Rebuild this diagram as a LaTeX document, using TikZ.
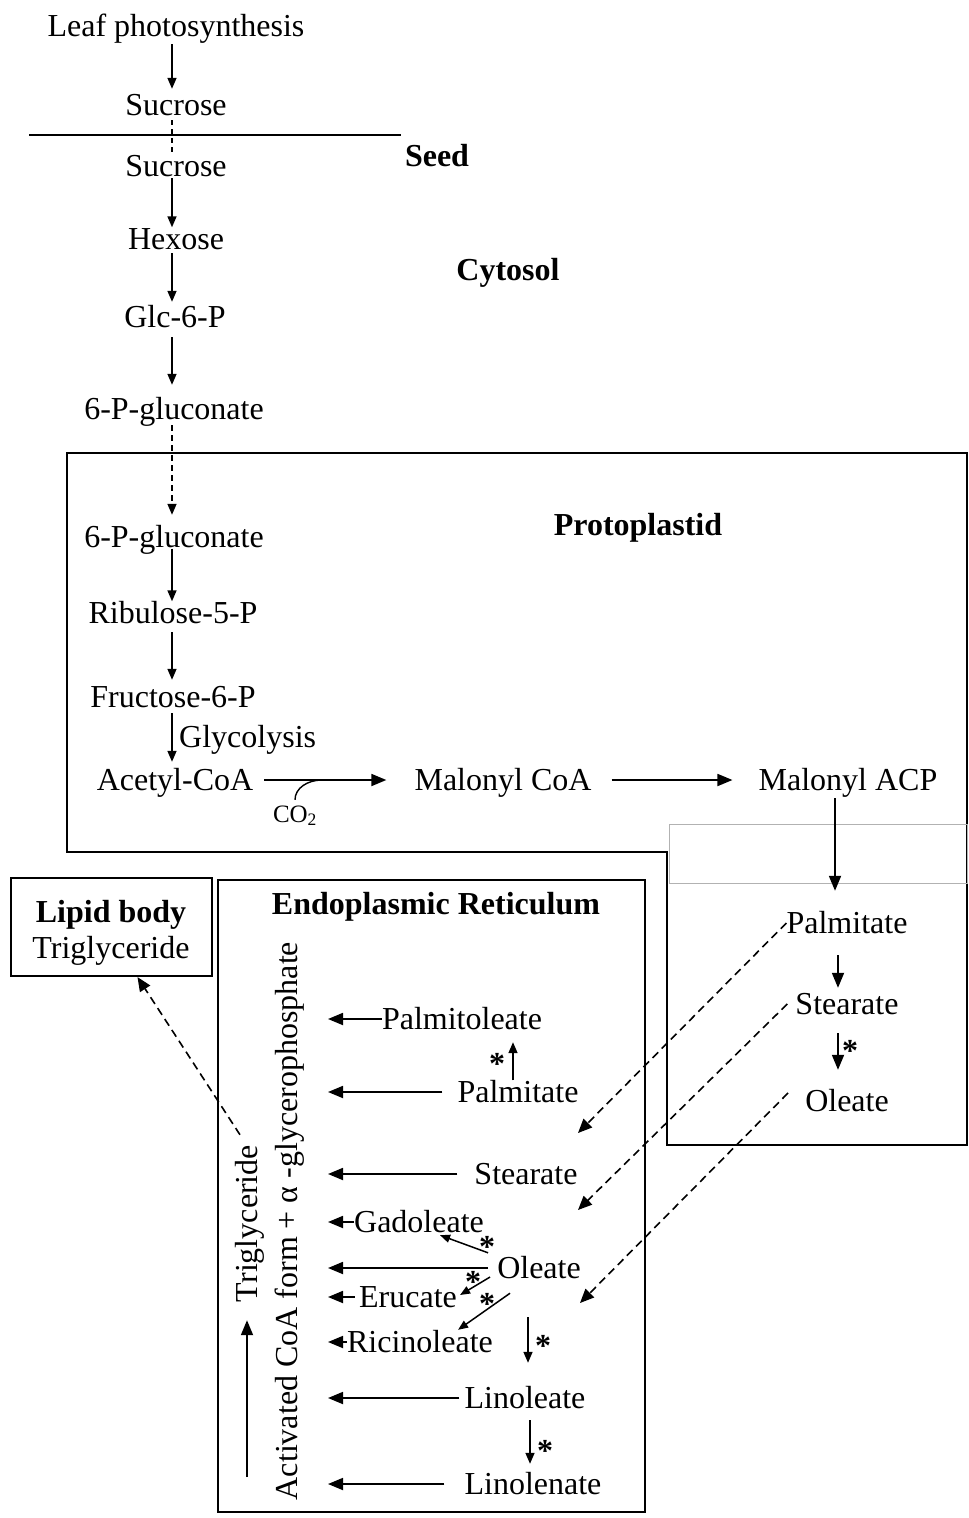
\documentclass[tikz,border=0pt]{standalone}
\usepackage{fontspec}
\setmainfont{Liberation Serif}
\usetikzlibrary{arrows.meta}
\newcommand\bigfnt{\fontsize{32}{37}\selectfont}
\begin{document}
\begin{tikzpicture}[x=1pt,y=-1pt,
  lbl/.style={inner sep=0pt, font=\bigfnt, text height=22pt, text depth=1pt, anchor=center},
  blbl/.style={lbl, font=\bigfnt\bfseries},
  arr/.style={line width=1.6pt, -{Triangle[length=11pt,width=9pt]}},
  harr/.style={line width=1.8pt, -{Triangle[length=15pt,width=12pt]}},
  sarr/.style={line width=1.5pt, -{Triangle[length=10pt,width=8pt]}},
  darr/.style={line width=1.6pt, dash pattern=on 8pt off 5pt, -{Triangle[length=14pt,width=12pt]}},
  boxline/.style={line width=2.2pt},
  star/.style={inner sep=0pt, font=\bigfnt\bfseries}
]
\fill[white] (0,0) rectangle (969,1518);
\useasboundingbox (0,0) rectangle (969,1518);

% boxes and separators
\draw[boxline] (67,453) -- (967,453) -- (967,1145) -- (667,1145) -- (667,852) -- (67,852) -- cycle;
\draw[gray!60, line width=1pt] (669,824) rectangle (967,883);
\draw[boxline] (218,880) rectangle (645,1512);
\draw[line width=2pt] (29,135) -- (401,135);
\node[draw, boxline, minimum width=201pt, minimum height=98pt, inner sep=0pt] (lipid) at (111.5,927) {};

% main column
\node[lbl] (leaf) at (176,26) {Leaf photosynthesis};
\node[lbl] (suc1) at (176,105) {Sucrose};
\node[lbl] (suc2) at (176,166) {Sucrose};
\node[lbl] (hex) at (176,239) {Hexose};
\node[lbl] (glc) at (175,317) {Glc-6-P};
\node[lbl] (pg1) at (174,408.5) {6-P-gluconate};
\node[lbl] (pg2) at (174,537) {6-P-gluconate};
\node[lbl] (rib) at (173,613) {Ribulose-5-P};
\node[lbl] (fru) at (173,697) {Fructose-6-P};
\node[lbl, anchor=west] (gly) at (179,737) {Glycolysis};
\node[lbl] (acetyl) at (175,780) {Acetyl-CoA};
\node[lbl] (malcoa) at (503,780) {Malonyl CoA};
\node[lbl] (malacp) at (848,780) {Malonyl ACP};
\node[font=\fontsize{25}{28}\selectfont, inner sep=0pt, text height=16pt, text depth=0pt] (co2) at (295,814) {CO\textsubscript{2}};

% compartment labels
\node[blbl] (seed) at (437,156) {Seed};
\node[blbl] (cyto) at (508,270) {Cytosol};
\node[blbl] (proto) at (638,525) {Protoplastid};
\node[blbl] (er) at (436,904) {Endoplasmic Reticulum};
\node[blbl] (lipT1) at (111,911.5) {Lipid body};
\node[lbl] (lipT2) at (111,947.5) {Triglyceride};

% right box
\node[lbl] (palmR) at (847,923) {Palmitate};
\node[lbl] (stearR) at (847,1004) {Stearate};
\node[lbl] (oleR) at (847,1101) {Oleate};

% ER contents
\node[lbl] (palmo) at (462,1019) {Palmitoleate};
\node[lbl] (palmE) at (518,1092) {Palmitate};
\node[lbl] (stearE) at (526,1174) {Stearate};
\node[lbl] (gado) at (419,1222) {Gadoleate};
\node[lbl] (oleE) at (539,1268) {Oleate};
\node[lbl] (eruc) at (408,1297) {Erucate};
\node[lbl] (ricin) at (420,1342) {Ricinoleate};
\node[lbl] (linol) at (525,1398) {Linoleate};
\node[lbl] (linon) at (533,1484) {Linolenate};
\node[lbl, rotate=90] (trig) at (246.5,1223.5) {Triglyceride};
\node[lbl, rotate=90] (act) at (286.5,1221) {Activated CoA form + α -glycerophosphate};

% column arrows
\coordinate (cx) at (172,0);
\draw[arr, shorten <=6.5pt, shorten >=4.5pt] (leaf.south -| cx) -- (suc1.north -| cx);
\draw[line width=1.5pt, dash pattern=on 5pt off 4pt, shorten <=3.5pt, shorten >=1.5pt] (suc1.south -| cx) -- (suc2.north -| cx);
\draw[arr, shorten <=0.5pt] (suc2.south -| cx) -- (hex.north -| cx);
\draw[arr, shorten <=2.5pt, shorten >=3.5pt] (hex.south -| cx) -- (glc.north -| cx);
\draw[arr, shorten <=8.5pt, shorten >=12pt] (glc.south -| cx) -- (pg1.north -| cx);
\draw[arr, dash pattern=on 6pt off 4pt, shorten <=5pt, shorten >=10.5pt] (pg1.south -| cx) -- (pg2.north -| cx);
\draw[arr] (pg2.south -| cx) -- (rib.north -| cx);
\draw[arr, shorten <=7.5pt, shorten >=5.5pt] (rib.south -| cx) -- (fru.north -| cx);
\draw[arr, shorten <=4.5pt, shorten >=6.5pt] (fru.south -| cx) -- (acetyl.north -| cx);

% plastid horizontal arrows
\draw[harr, shorten <=11pt, shorten >=28pt] (acetyl.east) -- (acetyl.east -| malcoa.west);
\coordinate (co2j) at (322,780);
\draw[line width=1.4pt] ([yshift=6pt]co2.north) .. controls +(0,-12) and +(-14,0) .. (co2j);
\draw[harr, shorten <=20pt, shorten >=26pt] (malcoa.east) -- (malcoa.east -| malacp.west);

% right box arrows
\coordinate (cR) at (835,0);
\coordinate (cR2) at (838,0);
\draw[harr, shorten <=6.5pt, shorten >=20.5pt] (malacp.south -| cR) -- (palmR.north -| cR);
\draw[harr, shorten <=20.5pt, shorten >=4.5pt] (palmR.south -| cR2) -- (stearR.north -| cR2);
\draw[harr, shorten <=17.5pt, shorten >=19.5pt] (stearR.south -| cR2) -- (oleR.north -| cR2);
\node[star] (s1) at (850,1051) {*};

% ER horizontal arrows
\coordinate (tx) at (328,0);
\draw[harr] (palmo.west) -- (palmo.west -| tx);
\draw[harr, shorten <=15pt] (palmE.west) -- (palmE.west -| tx);
\draw[harr, shorten <=17pt] (stearE.west) -- (stearE.west -| tx);
\draw[harr] (gado.west) -- (gado.west -| tx);
\draw[harr, shorten <=9pt] (oleE.west) -- (oleE.west -| tx);
\draw[harr, shorten <=4pt] (eruc.west) -- (eruc.west -| tx);
\draw[harr] (ricin.west) -- (ricin.west -| tx);
\draw[harr, shorten <=5pt] (linol.west) -- (linol.west -| tx);
\draw[harr, shorten <=20pt] (linon.west) -- (linon.west -| tx);

% ER conversions
\coordinate (cP) at (513,0);
\draw[arr, shorten >=11.5pt] (palmE.north -| cP) -- (palmo.south -| cP);
\node[star] (s2) at (497,1064) {*};
\coordinate (cO) at (528,0);
\draw[arr, shorten <=37.5pt, shorten >=23.5pt] (oleE.south -| cO) -- (linol.north -| cO);
\node[star] (s3) at (543,1346) {*};
\coordinate (cL) at (530,0);
\draw[arr, shorten <=10.5pt, shorten >=8.5pt] (linol.south -| cL) -- (linon.north -| cL);
\node[star] (s4) at (545,1451) {*};
\draw[sarr] ([shift={(-9,-3.5)}]oleE.north west) -- ([shift={(-44,1.5)}]gado.south east);
\node[star] (s5) at (487,1247) {*};
\draw[sarr] ([shift={(-7,9)}]oleE.west) -- ([shift={(3,-2)}]eruc.east);
\node[star] (s6) at (473,1282) {*};
\draw[sarr] ([shift={(13,13.5)}]oleE.south west) -- ([shift={(-35,-0.5)}]ricin.north east);
\node[star] (s7) at (487,1304) {*};

% transport (dashed)
\coordinate (d1) at (578,1133);
\coordinate (d2) at (578,1210);
\coordinate (d3) at (580,1303);
\draw[darr] (palmR.west) -- (d1);
\draw[darr] ([shift={(-8,0)}]stearR.west) -- (d2);
\draw[darr] ([shift={(-17,-8)}]oleR.west) -- (d3);
\draw[darr, shorten <=12pt] (trig.east) -- ([xshift=26pt]lipid.south);

% assembly arrow
\coordinate (ub) at (247,1477);
\draw[harr, shorten >=18pt] (ub) -- (ub |- trig.west);
\end{tikzpicture}
\end{document}
